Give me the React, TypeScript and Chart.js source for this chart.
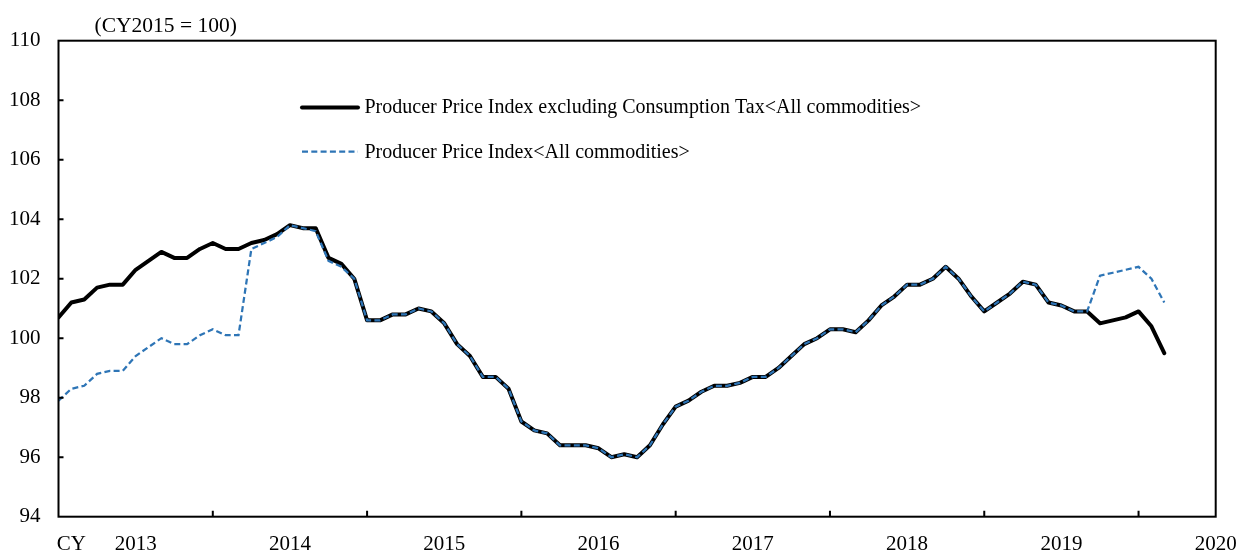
import React, { useEffect, useRef } from "react";
import { Chart, registerables } from "chart.js";

Chart.register(...registerables);

// Monthly values, Jan 2013 – Mar 2020
const exclTax = [
  100.7, 101.2, 101.3, 101.7, 101.8, 101.8, 102.3, 102.6, 102.9, 102.7, 102.7, 103.0, // 2013
  103.2, 103.0, 103.0, 103.2, 103.3, 103.5, 103.8, 103.7, 103.7, 102.7, 102.5, 102.0, // 2014
  100.6, 100.6, 100.8, 100.8, 101.0, 100.9, 100.5, 99.8, 99.4, 98.7, 98.7, 98.3, // 2015
  97.2, 96.9, 96.8, 96.4, 96.4, 96.4, 96.3, 96.0, 96.1, 96.0, 96.4, 97.1, // 2016
  97.7, 97.9, 98.2, 98.4, 98.4, 98.5, 98.7, 98.7, 99.0, 99.4, 99.8, 100.0, // 2017
  100.3, 100.3, 100.2, 100.6, 101.1, 101.4, 101.8, 101.8, 102.0, 102.4, 102.0, 101.4, // 2018
  100.9, 101.2, 101.5, 101.9, 101.8, 101.2, 101.1, 100.9, 100.9, 100.5, 100.6, 100.7, // 2019
  100.9, 100.4, 99.5, // 2020
];

const allCommodities = [
  97.9, 98.3, 98.4, 98.8, 98.9, 98.9, 99.4, 99.7, 100.0, 99.8, 99.8, 100.1, // 2013
  100.3, 100.1, 100.1, 103.0, 103.2, 103.4, 103.8, 103.7, 103.6, 102.6, 102.4, 102.0, // 2014
  100.6, 100.6, 100.8, 100.8, 101.0, 100.9, 100.5, 99.8, 99.4, 98.7, 98.7, 98.3, // 2015
  97.2, 96.9, 96.8, 96.4, 96.4, 96.4, 96.3, 96.0, 96.1, 96.0, 96.4, 97.1, // 2016
  97.7, 97.9, 98.2, 98.4, 98.4, 98.5, 98.7, 98.7, 99.0, 99.4, 99.8, 100.0, // 2017
  100.3, 100.3, 100.2, 100.6, 101.1, 101.4, 101.8, 101.8, 102.0, 102.4, 102.0, 101.4, // 2018
  100.9, 101.2, 101.5, 101.9, 101.8, 101.2, 101.1, 100.9, 100.9, 102.1, 102.2, 102.3, // 2019
  102.4, 102.0, 101.2, // 2020
];

const seriesLabels = [
  "Producer Price Index excluding Consumption Tax<All commodities>",
  "Producer Price Index<All commodities>",
];

// x axis in months from Jan 2013; labels placed mid-year
const xTickValues = [1, 6, 18, 30, 42, 54, 66, 78, 90];
const xTickLabels = ["CY", "2013", "2014", "2015", "2016", "2017", "2018", "2019", "2020"];
const yearBoundaries = [12, 24, 36, 48, 60, 72, 84];
const yTickValues = [96, 98, 100, 102, 104, 106, 108];
const unitNote = "(CY2015 = 100)";

const FONT = "'Liberation Serif', 'Times New Roman', serif";
const FONT_SIZE = 21;
const LEGEND_FONT_SIZE = 20;
const BLUE = "#2E75B6";

const decorPlugin = {
  id: "decor",
  afterDatasetsDraw(chart: any) {
    const { ctx, chartArea } = chart;
    const { left, right, top, bottom } = chartArea;
    const xs = chart.scales.x;
    const ys = chart.scales.y;
    ctx.save();
    // frame
    ctx.strokeStyle = "#000";
    ctx.lineWidth = 2;
    ctx.strokeRect(left, top, right - left, bottom - top);
    // inward tick marks
    ctx.beginPath();
    yearBoundaries.forEach((m) => {
      const px = xs.getPixelForValue(m);
      ctx.moveTo(px, bottom);
      ctx.lineTo(px, bottom - 6);
    });
    yTickValues.forEach((v) => {
      const py = ys.getPixelForValue(v);
      ctx.moveTo(left, py);
      ctx.lineTo(left + 5, py);
    });
    ctx.stroke();

    // unit note
    ctx.fillStyle = "#000";
    ctx.font = `21.5px ${FONT}`;
    ctx.textBaseline = "alphabetic";
    ctx.textAlign = "left";
    ctx.fillText(unitNote, 94.5, 31.5);

    // legend
    ctx.font = `${LEGEND_FONT_SIZE}px ${FONT}`;
    const entries = [
      { y: 107.5, base: 113.3 },
      { y: 151.7, base: 157.5 },
    ];
    chart.data.datasets.forEach((ds: any, i: number) => {
      const e = entries[i];
      ctx.beginPath();
      ctx.strokeStyle = ds.borderColor;
      ctx.lineWidth = ds.borderWidth;
      ctx.setLineDash(ds.borderDash || []);
      ctx.lineCap = ds.borderDash ? "butt" : "round";
      ctx.moveTo(302, e.y);
      ctx.lineTo(358, e.y);
      ctx.stroke();
      ctx.setLineDash([]);
      ctx.fillStyle = "#000";
      ctx.fillText(ds.label, 364.5, e.base);
    });
    ctx.restore();
  },
};

export default function App() {
  const ref = useRef<HTMLCanvasElement>(null);

  useEffect(() => {
    const canvas = ref.current;
    if (!canvas) return;
    const chart = new Chart(canvas, {
      type: "line",
      data: {
        datasets: [
          {
            label: seriesLabels[0],
            data: exclTax.map((y, i) => ({ x: i, y })),
            borderColor: "#000000",
            borderWidth: 4,
            pointRadius: 0,
            tension: 0,
            fill: false,
            borderJoinStyle: "round",
            borderCapStyle: "round",
            order: 2,
          },
          {
            label: seriesLabels[1],
            data: allCommodities.map((y, i) => ({ x: i, y })),
            borderColor: BLUE,
            borderWidth: 2.25,
            borderDash: [6, 3.3],
            pointRadius: 0,
            tension: 0,
            fill: false,
            order: 1,
          },
        ],
      } as any,
      options: {
        responsive: false,
        animation: false,
        layout: { padding: { top: 40.7, right: 21.3, left: 0, bottom: 0 } },
        plugins: {
          legend: { display: false },
          tooltip: { enabled: false },
          title: { display: false },
        },
        scales: {
          x: {
            type: "linear",
            min: 0,
            max: 90,
            grid: { display: false, drawTicks: false },
            border: { display: false },
            afterBuildTicks: (s: any) => {
              s.ticks = xTickValues.map((v) => ({ value: v }));
            },
            ticks: {
              autoSkip: false,
              maxRotation: 0,
              minRotation: 0,
              padding: 15,
              color: "#000",
              font: { family: FONT, size: FONT_SIZE },
              callback: (_v: any, i: number) => xTickLabels[i],
            },
            afterFit: (s: any) => {
              s.height = 37.3;
              s.paddingLeft = 0;
              s.paddingRight = 0;
            },
          },
          y: {
            min: 94,
            max: 110,
            grid: { display: false, drawTicks: false },
            border: { display: false },
            ticks: {
              stepSize: 2,
              padding: 18,
              color: "#000",
              font: { family: FONT, size: FONT_SIZE },
            },
            afterFit: (s: any) => {
              s.width = 58.5;
              s.paddingTop = 0;
              s.paddingBottom = 0;
            },
          },
        },
      } as any,
      plugins: [decorPlugin],
    });
    return () => chart.destroy();
  }, []);

  return (
    <div
      style={{
        position: "fixed",
        left: 0,
        top: 0,
        width: 1237,
        height: 554,
        background: "#ffffff",
      }}
    >
      <canvas ref={ref} width={1237} height={554} style={{ display: "block" }} />
    </div>
  );
}
